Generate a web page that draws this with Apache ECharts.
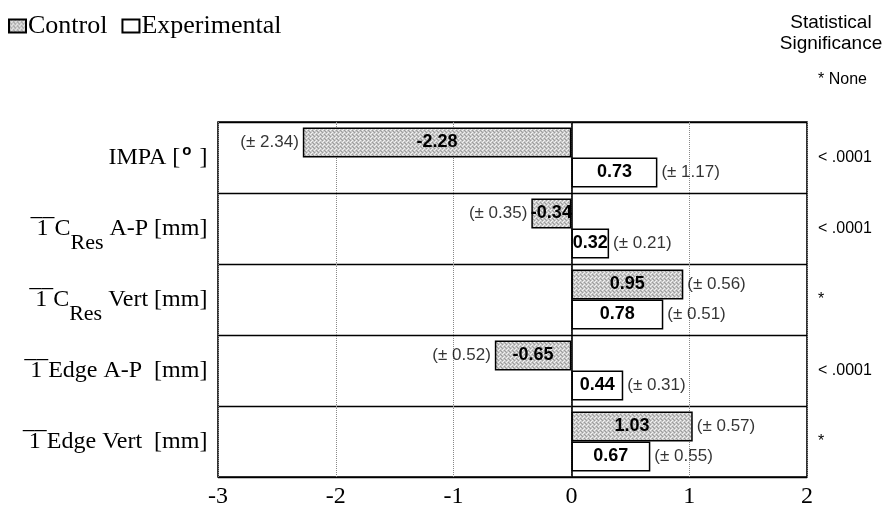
<!DOCTYPE html>
<html><head><meta charset="utf-8">
<script src="https://cdn.jsdelivr.net/npm/echarts@6/dist/echarts.min.js"></script>
<style>html,body{margin:0;padding:0;background:#fff}#c{width:885px;height:515px}</style>
</head><body><div id="c"></div>
<script>
const categories = ['IMPA', 'CRes A-P', 'CRes Vert', 'Edge A-P', 'Edge Vert'];
const controlValues = [-2.28, -0.34, 0.95, -0.65, 1.03];
const experimentalValues = [0.73, 0.32, 0.78, 0.44, 0.67];
const controlSD = [2.34, 0.35, 0.56, 0.52, 0.57];
const experimentalSD = [1.17, 0.21, 0.51, 0.31, 0.55];
const significance = ['< .0001', '< .0001', '*', '< .0001', '*'];
const xMin = -3, xMax = 2, xStep = 1;

const OL = '\u00a0\u03051\u0305';
const labelRich = {
  IMPA: '{m|IMPA [}{deg|o}{m| ]}{sp| }',
  'CRes A-P': '{m|' + OL + ' C}{sub|Res}{m| A-P [mm]}{sp| }',
  'CRes Vert': '{m|' + OL + ' C}{sub|Res}{m| Vert [mm]}{sp| }',
  'Edge A-P': '{m|' + OL + ' Edge A-P  [mm]}{sp| }',
  'Edge Vert': '{m|' + OL + ' Edge Vert  [mm]}{sp| }'
};

function makePattern() {
  const c = document.createElement('canvas');
  c.width = 4; c.height = 4;
  const ctx = c.getContext('2d');
  ctx.fillStyle = '#c8c8c8'; ctx.fillRect(0, 0, 4, 4);
  ctx.fillStyle = '#f2f2f2'; ctx.fillRect(0, 0, 1, 1); ctx.fillRect(2, 2, 1, 1); ctx.fillRect(3, 1, 1, 1);
  ctx.fillStyle = '#9c9c9c'; ctx.fillRect(2, 0, 1, 1); ctx.fillRect(0, 2, 1, 1); ctx.fillRect(1, 3, 1, 1);
  return c;
}
const pattern = { image: makePattern(), repeat: 'repeat' };

const SANS = 'Liberation Sans';
const SERIF = 'Liberation Serif';

function sdSeries(values, sds, dy) {
  return {
    type: 'scatter',
    yAxisIndex: 0,
    symbolSize: 0,
    itemStyle: { color: 'rgba(0,0,0,0)' },
    silent: true,
    z: 5,
    data: values.map((v, i) => ({
      value: [v, categories[i]],
      label: { position: v < 0 ? 'left' : 'right' }
    })),
    label: {
      show: true,
      distance: 4,
      offset: [0, dy],
      fontFamily: SANS,
      fontSize: 17,
      color: '#000',
      formatter: p => '(\u00b1 ' + sds[p.dataIndex].toFixed(2) + ')'
    }
  };
}

const chart = echarts.init(document.getElementById('c'), null, { renderer: 'canvas' });
chart.setOption({
  animation: false,
  backgroundColor: '#fff',
  legend: {
    data: ['Control', 'Experimental'],
    left: 3, top: 8,
    icon: 'rect',
    itemWidth: 17, itemHeight: 13, itemGap: 14,
    textStyle: { fontFamily: SERIF, fontSize: 26, color: '#000', padding: [0, 0, 0, -3] }
  },
  graphic: [
    { type: 'text', x: 831, y: 12, style: { text: 'Statistical\nSignificance', align: 'center', verticalAlign: 'top', fontFamily: SANS, fontSize: 19, lineHeight: 21, fill: '#000' } },
    { type: 'text', x: 818, y: 72, style: { text: '* None', fontFamily: SANS, fontSize: 16, fill: '#000' } }
  ],
  grid: { left: 218, right: 78, top: 122, bottom: 38, show: true, borderColor: '#000', borderWidth: 1.6, containLabel: false },
  xAxis: {
    type: 'value', min: xMin, max: xMax, interval: xStep,
    axisLine: { show: false }, axisTick: { show: false },
    splitLine: { show: true, lineStyle: { color: '#888', type: 'dotted', width: 1 } },
    axisLabel: { fontFamily: SERIF, fontSize: 24, color: '#000', margin: 8 }
  },
  yAxis: [
    {
      type: 'category', data: categories, inverse: true,
      axisLine: { show: false }, axisTick: { show: false },
      splitLine: { show: true, lineStyle: { color: '#000', width: 1.3 } },
      axisLabel: {
        margin: 10, color: '#000',
        formatter: v => labelRich[v],
        rich: {
          m: { fontFamily: SERIF, fontSize: 24, lineHeight: 26, verticalAlign: 'middle', color: '#000' },
          sub: { fontFamily: SERIF, fontSize: 22, lineHeight: 26, verticalAlign: 'bottom', color: '#000' },
          deg: { fontFamily: SANS, fontSize: 15, fontWeight: 'bold', verticalAlign: 'top', padding: [12, 2, 0, 2], color: '#000' },
          sp: { fontSize: 2, lineHeight: 52 }
        }
      }
    },
    {
      type: 'category', data: categories, inverse: true, position: 'right',
      axisLine: { show: false }, axisTick: { show: false }, splitLine: { show: false },
      axisLabel: {
        margin: 11, align: 'left', color: '#000', fontFamily: SANS, fontSize: 16,
        formatter: (v, i) => significance[i]
      }
    }
  ],
  series: [
    {
      name: 'Control', type: 'bar', yAxisIndex: 0, data: controlValues,
      barWidth: 30, barGap: '0%', z: 3,
      itemStyle: { color: pattern, borderColor: '#000', borderWidth: 1.5 },
      label: { show: true, position: 'inside', fontFamily: SANS, fontWeight: 'bold', fontSize: 18, color: '#000',
        formatter: p => p.value.toFixed(2) },
      markLine: { silent: true, symbol: 'none', label: { show: false },
        lineStyle: { color: '#000', width: 1.6, type: 'solid' }, data: [{ xAxis: 0 }] }
    },
    {
      name: 'Experimental', type: 'bar', yAxisIndex: 0, data: experimentalValues,
      barWidth: 30, barGap: '0%', z: 3,
      itemStyle: { color: '#fff', borderColor: '#000', borderWidth: 1.5 },
      label: { show: true, position: 'inside', fontFamily: SANS, fontWeight: 'bold', fontSize: 18, color: '#000',
        formatter: p => p.value.toFixed(2) }
    },
    sdSeries(controlValues, controlSD, -15),
    sdSeries(experimentalValues, experimentalSD, 15)
  ]
});
</script></body></html>
